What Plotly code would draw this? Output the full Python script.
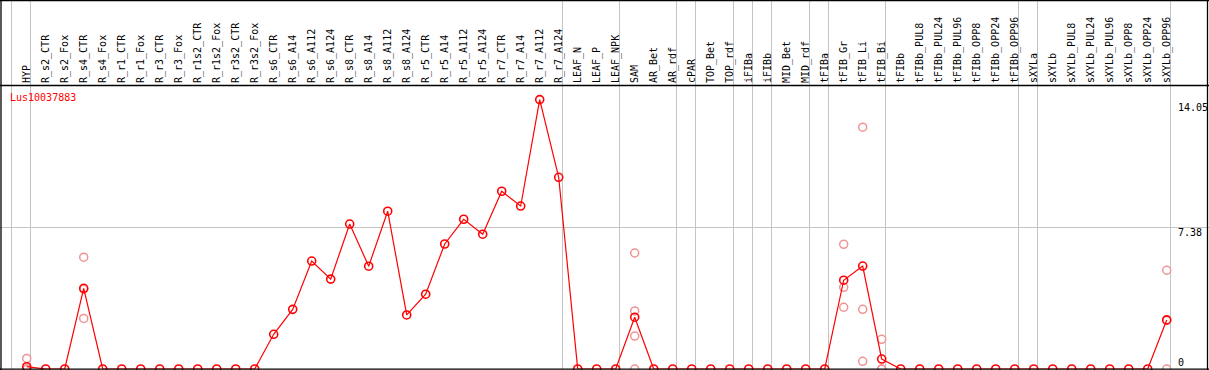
import plotly.graph_objects as go

gene = "Lus10037883"

categories = [
    "HYP", "R_s2_CTR", "R_s2_Fox", "R_s4_CTR", "R_s4_Fox", "R_r1_CTR", "R_r1_Fox",
    "R_r3_CTR", "R_r3_Fox", "R_r1s2_CTR", "R_r1s2_Fox", "R_r3s2_CTR", "R_r3s2_Fox",
    "R_s6_CTR", "R_s6_A14", "R_s6_A112", "R_s6_A124", "R_s8_CTR", "R_s8_A14",
    "R_s8_A112", "R_s8_A124", "R_r5_CTR", "R_r5_A14", "R_r5_A112", "R_r5_A124",
    "R_r7_CTR", "R_r7_A14", "R_r7_A112", "R_r7_A124", "LEAF_N", "LEAF_P", "LEAF_NPK",
    "SAM", "AR_Bet", "AR_rdf", "cPAR", "TOP_Bet", "TOP_rdf", "iFIBa", "iFIBb",
    "MID_Bet", "MID_rdf", "tFIBa", "tFIB_Gr", "tFIB_Li", "tFIB_Bi", "tFIBb",
    "tFIBb_PUL8", "tFIBb_PUL24", "tFIBb_PUL96", "tFIBb_OPP8", "tFIBb_OPP24",
    "tFIBb_OPP96", "sXYLa", "sXYLb", "sXYLb_PUL8", "sXYLb_PUL24", "sXYLb_PUL96",
    "sXYLb_OPP8", "sXYLb_OPP24", "sXYLb_OPP96",
]

mean_values = [
    0.12, 0, 0, 4.21, 0, 0, 0, 0, 0, 0, 0, 0, 0,
    1.81, 3.11, 5.63, 4.69, 7.56, 5.36, 8.23, 2.82,
    3.90, 6.52, 7.81, 7.03, 9.27, 8.50, 14.05, 10.0,
    0, 0, 0, 2.70, 0, 0, 0, 0, 0, 0, 0, 0, 0, 0,
    4.63, 5.37, 0.52, 0, 0, 0, 0, 0, 0, 0, 0, 0, 0, 0, 0, 0, 0, 2.56,
]

rep_categories = [
    "HYP", "HYP", "HYP",
    "R_s4_CTR", "R_s4_CTR", "R_s4_CTR",
    "SAM", "SAM", "SAM", "SAM",
    "tFIB_Gr", "tFIB_Gr", "tFIB_Gr",
    "tFIB_Li", "tFIB_Li", "tFIB_Li",
    "tFIB_Bi", "tFIB_Bi", "tFIB_Bi",
    "sXYLb_OPP96", "sXYLb_OPP96", "sXYLb_OPP96",
]
rep_values = [
    0.55, 0, 0,
    5.83, 4.16, 2.64,
    6.05, 3.03, 1.72, 0,
    6.50, 4.26, 3.22,
    12.61, 3.11, 0.40,
    1.55, 0, 0,
    5.15, 2.53, 0,
]

# number of samples in each tissue group (vertical separators between groups)
group_sizes = [1, 28, 3, 3, 1, 2, 1, 1, 2, 1, 3, 7, 1, 7]

y_ticks = [0, 7.38, 14.05]
y_max = 14.76

W, H = 1209, 370
ML, MR, MT, MB = 1, 38, 86, 1
pw, ph = W - ML - MR, H - MT - MB
x0r = -1.3526
x1r = x0r + pw / 19.0

def xpaper(v):
    return (v - x0r) / (x1r - x0r)

def px_to_paper_x(p):
    return (p - ML) / pw

def py_to_paper_y(p):
    return (H - MB - p) / ph

grid_col = "#C4C4C4"
shapes = []
ytop = py_to_paper_y(0)
bounds = [-1]
acc = -1
for g in group_sizes:
    acc += g
    bounds.append(acc)
for b in bounds:
    xp = xpaper(b + 0.2)
    shapes.append(dict(type="line", xref="paper", yref="paper", x0=xp, x1=xp,
                       y0=0, y1=ytop, line=dict(color=grid_col, width=1), layer="below"))
# mid horizontal gridline
ym = 7.38 / y_max
shapes.append(dict(type="line", xref="paper", yref="paper", x0=px_to_paper_x(0),
                   x1=px_to_paper_x(W), y0=ym, y1=ym,
                   line=dict(color=grid_col, width=1), layer="below"))
# frame lines
blk = dict(color="black", width=1.3)
shapes += [
    dict(type="line", xref="paper", yref="paper", x0=px_to_paper_x(0), x1=px_to_paper_x(W),
         y0=py_to_paper_y(85.5), y1=py_to_paper_y(85.5), line=blk),
    dict(type="line", xref="paper", yref="paper", x0=px_to_paper_x(1), x1=px_to_paper_x(1),
         y0=py_to_paper_y(370), y1=ytop, line=blk),
    dict(type="line", xref="paper", yref="paper", x0=px_to_paper_x(1207.5), x1=px_to_paper_x(1207.5),
         y0=py_to_paper_y(370), y1=ytop, line=blk),
    dict(type="line", xref="paper", yref="paper", x0=px_to_paper_x(0), x1=px_to_paper_x(W),
         y0=py_to_paper_y(0.7), y1=py_to_paper_y(0.7), line=blk),
    dict(type="line", xref="paper", yref="paper", x0=px_to_paper_x(0), x1=px_to_paper_x(W),
         y0=py_to_paper_y(369.2), y1=py_to_paper_y(369.2), line=blk),
]

mono = "DejaVu Sans Mono"

fig = go.Figure()
fig.add_trace(go.Scatter(
    x=rep_categories, y=rep_values, mode="markers",
    marker=dict(symbol="circle-open", size=8, color="#EE9494", line=dict(width=1.5)),
    cliponaxis=False, showlegend=False,
))
fig.add_trace(go.Scatter(
    x=categories, y=mean_values, mode="lines+markers",
    line=dict(color="#FF0000", width=1.2),
    marker=dict(symbol="circle-open", size=8, color="#FF0000", line=dict(width=1.6)),
    cliponaxis=False, showlegend=False,
))

annotations = [
    dict(text=gene, xref="paper", yref="paper", x=px_to_paper_x(9), y=py_to_paper_y(98),
         xanchor="left", yanchor="middle", showarrow=False, borderpad=0,
         font=dict(family=mono, size=10, color="#FF0000")),
]
yshifts = {0: 7, 7.38: -4.5, 14.05: -7.4}
for t in y_ticks:
    annotations.append(dict(text=str(t), xref="paper", yref="y", x=1, y=t,
                            xanchor="left", yanchor="middle", xshift=6, yshift=yshifts[t],
                            showarrow=False, borderpad=0,
                            font=dict(family=mono, size=10, color="black")))

fig.update_layout(
    template="none",
    width=W, height=H,
    margin=dict(l=ML, r=MR, t=MT, b=MB, pad=0, autoexpand=False),
    paper_bgcolor="white", plot_bgcolor="white",
    shapes=shapes, annotations=annotations,
    xaxis=dict(type="category", categoryorder="array", categoryarray=categories,
               range=[x0r, x1r], side="top", tickangle=-90, showgrid=False,
               zeroline=False, showline=False, ticks="", ticklabelstandoff=2,
               automargin=False,
               tickfont=dict(family=mono, size=10, color="black"), fixedrange=True),
    yaxis=dict(range=[0, y_max], showgrid=False, zeroline=False, showline=False,
               showticklabels=False, ticks="", automargin=False, fixedrange=True),
)

fig.write_html(
    "out.html",
    config={"displayModeBar": False},
    post_script="document.body.style.margin='0';document.body.style.overflow='hidden';",
)
